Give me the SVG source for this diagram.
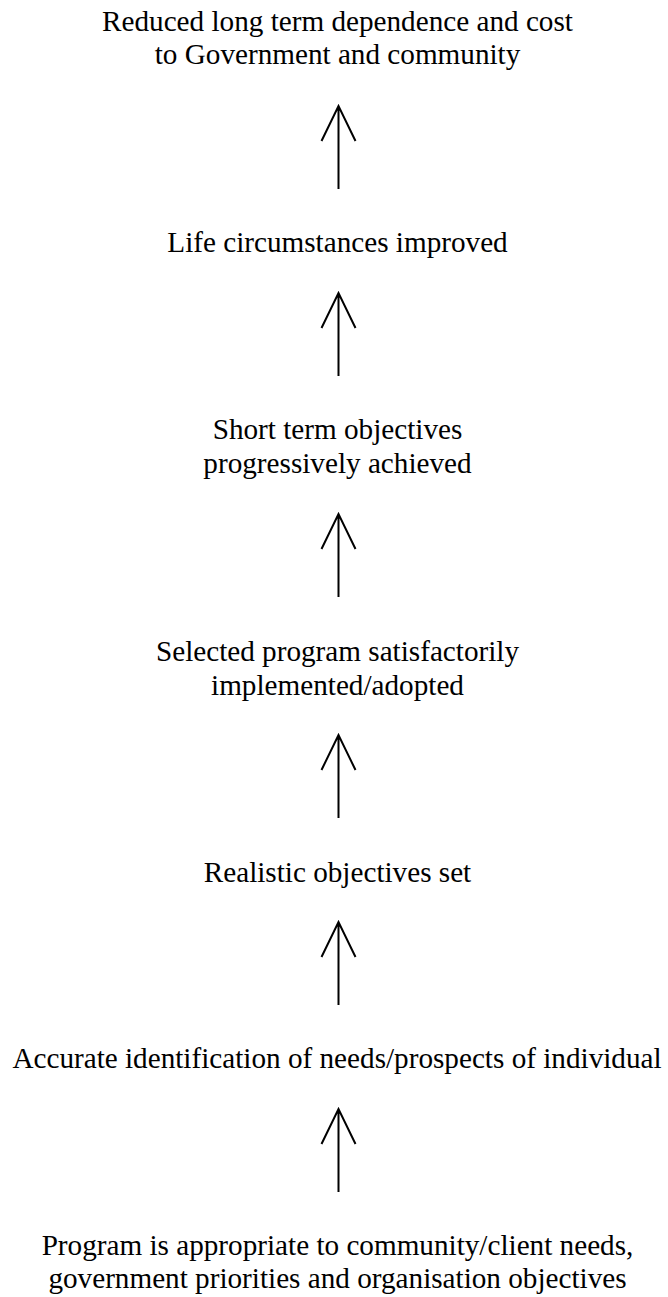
<svg xmlns="http://www.w3.org/2000/svg" width="668" height="1297" viewBox="0 0 668 1297">
<style>
text{font-family:"Liberation Serif","Times New Roman",serif;font-size:29.2px;fill:#000;text-anchor:middle}
.ar{fill:none;stroke:#000;stroke-width:2}
</style>
<defs>
<path id="arr" class="ar" d="M0,0 V83 M-17,35 L0,0 L17,35"/>
</defs>
<rect width="668" height="1297" fill="#fff"/>
<g id="n1"><text x="337.5" y="31">Reduced long term dependence and cost</text><text x="337.5" y="64">to Government and community</text></g>
<g id="n2"><text x="337.5" y="252">Life circumstances improved</text></g>
<g id="n3"><text x="337.5" y="439">Short term objectives</text><text x="337.5" y="473">progressively achieved</text></g>
<g id="n4"><text x="337.5" y="661">Selected program satisfactorily</text><text x="337.5" y="695">implemented/adopted</text></g>
<g id="n5"><text x="337.5" y="882">Realistic objectives set</text></g>
<g id="n6"><text x="337" y="1067.5">Accurate identification of needs/prospects of individual</text></g>
<g id="n7"><text x="337.5" y="1255">Program is appropriate to community/client needs,</text><text x="337.5" y="1288">government priorities and organisation objectives</text></g>
<g id="connectors">
<use href="#arr" x="338.5" y="106"/>
<use href="#arr" x="338.5" y="293"/>
<use href="#arr" x="338.5" y="514"/>
<use href="#arr" x="338.5" y="735"/>
<use href="#arr" x="338.5" y="922"/>
<use href="#arr" x="338.5" y="1109"/>
</g>
</svg>
